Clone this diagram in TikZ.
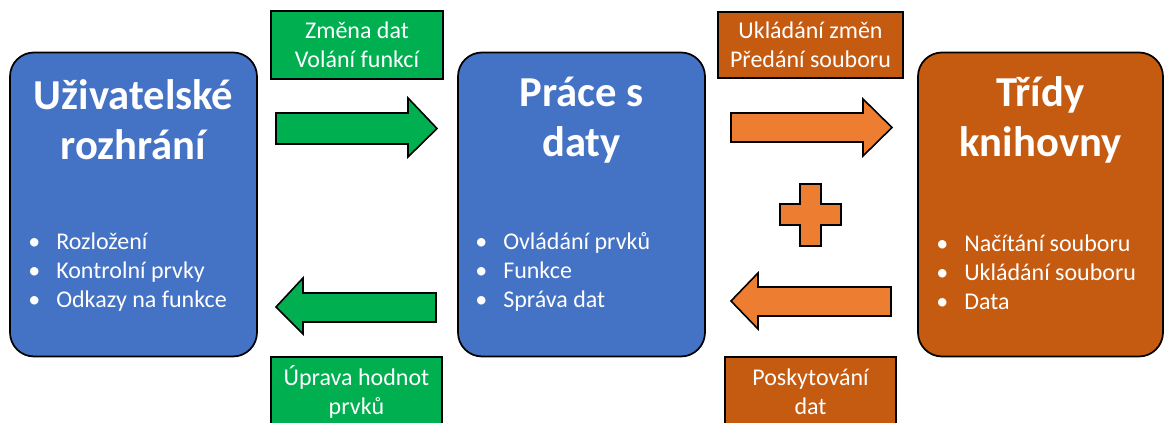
\documentclass[tikz,border=0pt]{standalone}
\usepackage{fontspec}
\setmainfont{Carlito}
\definecolor{blueC}{HTML}{4472C4}
\definecolor{greenC}{HTML}{00B050}
\definecolor{orangeD}{HTML}{C55A11}
\definecolor{orangeL}{HTML}{ED7D31}
\tikzset{
  bigbox/.style={draw=black, line width=1.3pt, rounded corners=18pt, minimum width=185.25pt, minimum height=228pt, inner sep=0pt},
  titletext/.style={text=white, font=\fontsize{32}{37.5}\selectfont\bfseries, align=center},
  listtext/.style={text=white, font=\fontsize{18}{21.9}\selectfont, align=left, anchor=west, inner sep=0pt},
  labelbox/.style={draw=black, line width=1.2pt, inner sep=0pt},
  labeltext/.style={text=white, font=\fontsize{18}{22}\selectfont, align=center},
  blockarrow/.style={draw=black, line width=1.2pt},
}
\newcommand{\bl}[1]{\makebox[21pt][l]{•}#1}
\begin{document}
\begin{tikzpicture}[x=0.75pt,y=-0.75pt]
\useasboundingbox (0,0) rectangle (1165,423);
\clip (0,0) rectangle (1165,423);
% main boxes
\node[bigbox, fill=blueC] (ui) at (133.5,204.5) {};
\node[bigbox, fill=blueC] (data) at (581.5,204.5) {};
\node[bigbox, fill=orangeD, minimum width=183.75pt] (lib) at (1040.5,204.5) {};
% titles
\node[titletext] (uit) at (133.5,120) {Uživatelské\\rozhrání};
\node[titletext] (datat) at (581.5,120) {Práce s\\daty};
\node[titletext] (libt) at (1040.5,120) {Třídy\\knihovny};
% lists
\node[listtext] (uil) at (28,272) {\bl{Rozložení}\\\bl{Kontrolní prvky}\\\bl{Odkazy na funkce}};
\node[listtext] (datal) at (475,272) {\bl{Ovládání prvků}\\\bl{Funkce}\\\bl{Správa dat}};
\node[listtext] (libl) at (936,272) {\bl{Načítání souboru}\\\bl{Ukládání souboru}\\\bl{Data}};
% label boxes
\path[labelbox, fill=greenC] (271,11) rectangle (443,79);
\node[labeltext] (l1) at (357,45) {Změna dat\\Volání funkcí};
\path[labelbox, fill=orangeD] (718,12) rectangle (903,78);
\node[labeltext] (l2) at (810.5,45) {Ukládání změn\\Předání souboru};
\path[labelbox, fill=greenC] (271,357) rectangle (442,440);
\node[labeltext] (l3) at (356.5,392) {Úprava hodnot\\prvků};
\path[labelbox, fill=orangeD] (725,357) rectangle (896,440);
\node[labeltext] (l4) at (810.5,392) {Poskytování\\dat};
% block arrows
\path[blockarrow, fill=greenC] (276,113) -- (408,113) -- (408,98) -- (437,128.5) -- (408,157) -- (408,144) -- (276,144) -- cycle;
\path[blockarrow, fill=orangeL] (731,113) -- (863,113) -- (863,99) -- (892,127.5) -- (863,156) -- (863,142) -- (731,142) -- cycle;
\path[blockarrow, fill=orangeL] (891,287) -- (758,287) -- (758,273) -- (731,301) -- (758,329) -- (758,316) -- (891,316) -- cycle;
\path[blockarrow, fill=greenC] (436,293) -- (303,293) -- (303,278) -- (276,307) -- (303,334) -- (303,322) -- (436,322) -- cycle;
% plus
\path[blockarrow, fill=orangeL] (800,184) -- (821,184) -- (821,204) -- (841,204) -- (841,225) -- (821,225) -- (821,246) -- (800,246) -- (800,225) -- (780,225) -- (780,204) -- (800,204) -- cycle;
\end{tikzpicture}
\end{document}
